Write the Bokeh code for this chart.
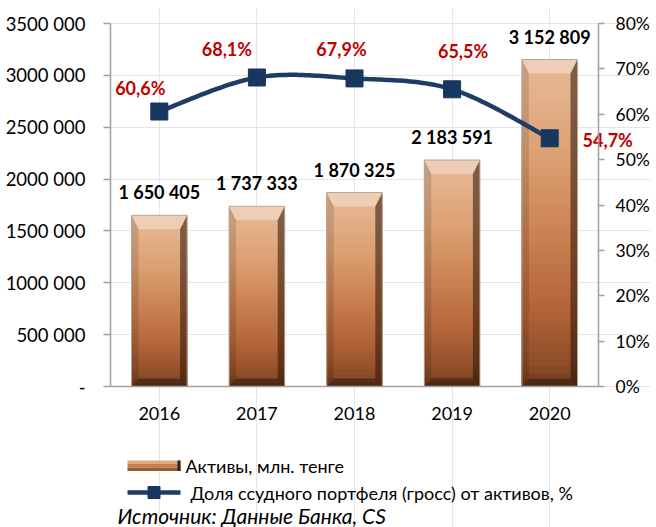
import numpy as np
from bokeh.plotting import figure
from bokeh.models import Range1d, LinearAxis, FixedTicker
from bokeh.embed import file_html
from bokeh.resources import INLINE
from bokeh.core.properties import value

# ---------------- data ----------------
years = ["2016", "2017", "2018", "2019", "2020"]
assets = [1650405, 1737333, 1870325, 2183591, 3152809]
loan_share = [60.6, 68.1, 67.9, 65.5, 54.7]
y_ticks = [0, 500000, 1000000, 1500000, 2000000, 2500000, 3000000, 3500000]
y_tick_labels = ["-", "500 000", "1000 000", "1500 000", "2000 000",
                 "2500 000", "3000 000", "3500 000"]
pct_ticks = [0, 10, 20, 30, 40, 50, 60, 70, 80]
pct_tick_labels = ["0%", "10%", "20%", "30%", "40%", "50%", "60%", "70%", "80%"]
series_names = ["Активы, млн. тенге",
                "Доля ссудного портфеля (гросс) от активов, %"]
source_note = "Источник: Данные Банка, CS"

FONT = "Lato"
AX = "#A0A0A0"
LINE_C = "#1F3C66"
MARK_C = "#17375E"
RED = "#C00000"

x = np.arange(len(years), dtype=float)
vals = np.array(assets, dtype=float)

# ---------------- geometry (pixels) ----------------
W, H = 656, 527
FL, FR, FT, FBOT = 110, 650, 8, 527   # frame edges
AXIS0, AXIS_TOP = 386, 23             # pixel rows of 0 and 3 500 000 / 80 %
CAT_PX = (598 - FL) / 5.0
VPX = 3500000 / (AXIS0 - AXIS_TOP)
PPX = 80 / (AXIS0 - AXIS_TOP)

p = figure(width=W, height=H, output_backend="svg", toolbar_location=None,
           x_axis_location=None, y_axis_location=None,
           x_range=Range1d(-0.5, -0.5 + (FR - FL) / CAT_PX),
           y_range=Range1d(-(FBOT - AXIS0) * VPX, 3500000 + (AXIS_TOP - FT) * VPX),
           min_border_left=FL, min_border_right=W - FR, min_border_top=FT,
           min_border_bottom=0)
p.extra_y_ranges = {"pct": Range1d(-(FBOT - AXIS0) * PPX,
                                   80 + (AXIS_TOP - FT) * PPX)}
p.outline_line_color = None
p.background_fill_color = "white"
p.border_fill_color = "white"


def X(px):
    return -0.5 + (px - FL) / CAT_PX


def Y(py):
    return (AXIS0 - py) * VPX


# ---- bars with a vertical gradient (stacked from full height down) ----
stops = [(0.0, (0x6A, 0x38, 0x1C)), (0.06, (0x8C, 0x4C, 0x28)),
         (0.22, (0xB0, 0x62, 0x36)), (0.45, (0xCA, 0x80, 0x50)),
         (0.7, (0xDC, 0xA0, 0x72)), (0.9, (0xE4, 0xB2, 0x8C)),
         (1.0, (0xE6, 0xB8, 0x94))]


def ramp(f):
    for (f0, c0), (f1, c1) in zip(stops[:-1], stops[1:]):
        if f0 <= f <= f1:
            t = (f - f0) / (f1 - f0) if f1 > f0 else 0
            c = [int(round(a + (b - a) * t)) for a, b in zip(c0, c1)]
            return "#%02x%02x%02x" % tuple(c)
    return "#%02x%02x%02x" % stops[-1][1]


N = 48
BW = 0.57
gx, gtop, gcol = [], [], []
for k in range(N):
    frac = 1 - k / N
    col = ramp(frac - 0.5 / N)
    for xi, v in zip(x, vals):
        gx.append(xi)
        gtop.append(v * frac)
        gcol.append(col)
p.vbar(x=gx, top=gtop, bottom=0, width=BW, fill_color=gcol, line_color=None)

# bevel faces
bev_h = 14 * VPX
bot_h = 8 * VPX
ins = 7 / CAT_PX
hw = BW / 2
top_xs, top_ys, r_xs, r_ys, l_xs, l_ys, b_xs, b_ys = [], [], [], [], [], [], [], []
for xi, v in zip(x, vals):
    top_xs.append([xi - hw, xi + hw, xi + hw - ins, xi - hw + ins])
    top_ys.append([v, v, v - bev_h, v - bev_h])
    r_xs.append([xi + hw - ins, xi + hw, xi + hw, xi + hw - ins])
    r_ys.append([v - bev_h, v, 0, bot_h])
    l_xs.append([xi - hw, xi - hw + ins, xi - hw + ins, xi - hw])
    l_ys.append([v, v - bev_h, bot_h, 0])
    b_xs.append([xi - hw, xi + hw, xi + hw - ins, xi - hw + ins])
    b_ys.append([0, 0, bot_h, bot_h])
p.patches(top_xs, top_ys, fill_color="white", fill_alpha=0.32, line_color=None)
p.patches(l_xs, l_ys, fill_color="black", fill_alpha=0.13, line_color=None)
p.patches(r_xs, r_ys, fill_color="#2A1408", fill_alpha=0.55, line_color=None)
p.patches(b_xs, b_ys, fill_color="black", fill_alpha=0.3, line_color=None)
p.vbar(x=x, top=vals, bottom=0, width=BW, fill_color=None,
       line_color="#B9A596", line_width=1)

# bar value labels
bar_labels = [f"{int(v):,}".replace(",", " ") for v in assets]
p.text(x=x, y=vals, text=bar_labels, text_align="center",
       text_baseline="bottom", y_offset=-12, text_font=value(FONT),
       text_font_style="bold", text_font_size="18px", text_color="black")

# ---- smoothed line (Catmull-Rom, like Excel's smoothing) ----
P = np.column_stack([x, np.array(loan_share, dtype=float)])
ext = np.vstack([P[0], P, P[-1]])
sxs, sys_ = [], []
for i in range(len(P) - 1):
    p0, p1, p2, p3 = ext[i], ext[i + 1], ext[i + 2], ext[i + 3]
    c1 = p1 + (p2 - p0) / 6
    c2 = p2 - (p3 - p1) / 6
    for t in np.linspace(0, 1, 30, endpoint=(i == len(P) - 2)):
        b = ((1 - t) ** 3) * p1 + 3 * ((1 - t) ** 2) * t * c1 + 3 * (1 - t) * t * t * c2 + t ** 3 * p2
        sxs.append(b[0])
        sys_.append(b[1])
p.line(sxs, sys_, y_range_name="pct", line_color=LINE_C, line_width=4.5)
p.scatter(x, loan_share, y_range_name="pct", marker="square", size=17,
          fill_color=MARK_C, line_color=MARK_C)

pct_labels = [f"{v:.1f}".replace(".", ",") + "%" for v in loan_share]
p.text(x=x, y=loan_share, y_range_name="pct", text=pct_labels,
       x_offset=[-19, -30, -13, 11, 58], y_offset=[-24, -28, -29, -38, 2],
       text_align="center", text_baseline="middle", text_font=value(FONT),
       text_font_style="bold", text_font_size="18px", text_color=RED)


# ---- axes ----
def style(a):
    a.axis_line_color = AX
    a.axis_line_width = 1.5
    a.major_tick_line_color = AX
    a.major_tick_line_width = 1.5
    a.major_tick_in = 0
    a.minor_tick_in = 0


ly = LinearAxis(ticker=FixedTicker(ticks=y_ticks), bounds=(0, 3500000))
style(ly)
ly.minor_tick_line_color = None
ly.major_label_overrides = {t: s for t, s in zip(y_ticks, y_tick_labels)}
ly.major_tick_out = 7
ly.major_label_standoff = 18
ly.major_label_text_font = FONT
ly.major_label_text_font_size = "18.5px"
ly.major_label_text_color = "black"
p.add_layout(ly, "left")

# secondary axis at the right end of the categories; its ticks carry no
# axis labels (the labels are drawn as text so that the plot area can
# extend past the axis, as in the original)
ry = LinearAxis(y_range_name="pct", fixed_location=4.5, bounds=(0, 80),
                ticker=FixedTicker(ticks=[], minor_ticks=pct_ticks))
style(ry)
ry.major_tick_out = 0
ry.minor_tick_out = 6
ry.minor_tick_line_color = AX
ry.minor_tick_line_width = 1.5
ry.major_label_standoff = 0
p.add_layout(ry, "right")
p.text(x=[4.5] * len(pct_ticks), y=pct_ticks, y_range_name="pct",
       text=pct_tick_labels, x_offset=17, text_align="left",
       text_baseline="middle", text_font=value(FONT),
       text_font_size="17.5px", text_color="black")

# category axis line at value 0 (category labels drawn as text)
bx = LinearAxis(fixed_location=0, bounds=(-0.5, 4.5),
                ticker=FixedTicker(ticks=[]))
style(bx)
bx.minor_tick_line_color = None
bx.major_tick_out = 0
bx.major_label_standoff = 0
p.add_layout(bx, "below")
p.text(x=x, y=[0] * len(x), text=years, y_offset=27, text_align="center",
       text_baseline="middle", text_font=value(FONT), text_font_size="18px",
       text_color="black")

# ---------------- legend / note ----------------
p.quad(left=[X(127)] * 3, right=[X(180)] * 3,
       top=[Y(460), Y(463.5), Y(467)], bottom=[Y(463.5), Y(467), Y(470.5)],
       fill_color=["#DDAA82", "#C4804F", "#9A5A34"], line_color=None)
p.quad(left=[X(177)], right=[X(180)], top=[Y(460)], bottom=[Y(470.5)],
       fill_color="#3A1E0E", line_color=None)
p.text(x=[X(185)], y=[Y(465)], text=[series_names[0]], text_baseline="middle",
       text_font=value(FONT), text_font_size="18px", text_color="black")

p.line([X(127), X(180)], [Y(492), Y(492)], line_color=LINE_C, line_width=4.5)
p.scatter([X(153.5)], [Y(492)], marker="square", size=12, fill_color=MARK_C,
          line_color=MARK_C)
p.text(x=[X(190)], y=[Y(492)], text=[series_names[1]], text_baseline="middle",
       text_font=value(FONT), text_font_size="18px", text_color="black")

p.text(x=[X(117)], y=[Y(515)], text=[source_note], text_baseline="middle",
       text_font=value(FONT), text_font_style="italic", text_font_size="21px",
       text_color="black")

open("out.html", "w").write(file_html(p, INLINE))
